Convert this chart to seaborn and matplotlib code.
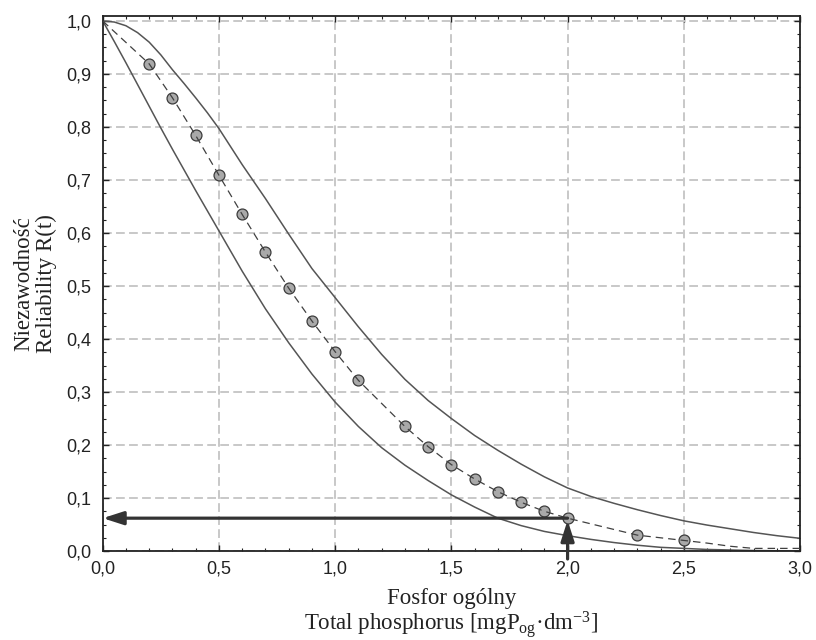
import numpy as np
import pandas as pd
import seaborn as sns
import matplotlib.pyplot as plt
from matplotlib.ticker import MultipleLocator

t_obs = [0.2, 0.3, 0.4, 0.5, 0.6, 0.7, 0.8, 0.9, 1.0, 1.1,
         1.3, 1.4, 1.5, 1.6, 1.7, 1.8, 1.9, 2.0, 2.3, 2.5]
r_obs = [0.919, 0.855, 0.784, 0.709, 0.635, 0.564, 0.496, 0.434, 0.376, 0.322,
         0.235, 0.197, 0.163, 0.136, 0.112, 0.092, 0.075, 0.062, 0.030, 0.020]

# Empirical (dashed) curve incl. start and tail
emp_t = [0.0, 0.2, 0.3, 0.4, 0.5, 0.6, 0.7, 0.8, 0.9, 1.0, 1.1,
         1.3, 1.4, 1.5, 1.6, 1.7, 1.8, 1.9, 2.0, 2.3, 2.5, 2.6, 2.7, 2.8, 3.0]
emp_r = [1.0, 0.919, 0.855, 0.784, 0.709, 0.635, 0.564, 0.496, 0.434, 0.376, 0.322,
         0.235, 0.197, 0.163, 0.136, 0.112, 0.092, 0.075, 0.062, 0.030, 0.020,
         0.015, 0.009, 0.005, 0.005]

# Confidence bounds (solid lines)
grid_t = [0.0, 0.05, 0.1, 0.15, 0.2, 0.25, 0.3, 0.35, 0.4, 0.45, 0.5, 0.55, 0.6, 0.7, 0.8, 0.9, 1.0,
          1.1, 1.2, 1.3, 1.4, 1.5, 1.6, 1.7, 1.8, 1.9, 2.0,
          2.1, 2.2, 2.3, 2.4, 2.5, 2.6, 2.7, 2.8, 2.9, 3.0]
r_upper = [1.0, 0.998, 0.991, 0.978, 0.960, 0.936, 0.908, 0.882, 0.855, 0.827, 0.797,
           0.763, 0.729, 0.665, 0.598, 0.533, 0.478,
           0.423, 0.371, 0.324, 0.284, 0.250, 0.218, 0.190, 0.164, 0.140, 0.119,
           0.103, 0.090, 0.078, 0.067, 0.057, 0.049, 0.042, 0.035, 0.029, 0.024]
r_lower = [1.0, 0.961, 0.921, 0.880, 0.839, 0.798, 0.758, 0.719, 0.680, 0.642, 0.604,
           0.566, 0.528, 0.457, 0.393, 0.334, 0.281,
           0.235, 0.195, 0.162, 0.133, 0.106, 0.083, 0.062, 0.048, 0.037, 0.029,
           0.022, 0.016, 0.011, 0.007, 0.005, 0.003, 0.002, 0.001, 0.0005, 0.0]

# Read-off point marked with arrows
t_read = 2.0
r_read = 0.062

x_ticks = [0.0, 0.5, 1.0, 1.5, 2.0, 2.5, 3.0]
x_labels = ['0,0', '0,5', '1,0', '1,5', '2,0', '2,5', '3,0']
y_ticks = [0.0, 0.1, 0.2, 0.3, 0.4, 0.5, 0.6, 0.7, 0.8, 0.9, 1.0]
y_labels = ['0,0', '0,1', '0,2', '0,3', '0,4', '0,5', '0,6', '0,7', '0,8', '0,9', '1,0']

sns.set_style('ticks')
plt.rcParams['font.family'] = ['Liberation Sans', 'DejaVu Sans']
plt.rcParams['mathtext.fontset'] = 'custom'
plt.rcParams['mathtext.rm'] = 'Liberation Serif'
plt.rcParams['mathtext.it'] = 'Liberation Serif:italic'

fig, ax = plt.subplots(figsize=(8.16, 6.4), dpi=100)
fig.subplots_adjust(left=0.1259, right=0.9804, top=0.9755, bottom=0.139)

ax.grid(True, which='major', color='#c8c8c8', lw=1.4, linestyle=(0, (4.5, 2.2)))
ax.set_axisbelow(True)

sns.lineplot(x=grid_t, y=r_upper, ax=ax, color='#555555', lw=1.1, estimator=None, zorder=2)
sns.lineplot(x=grid_t, y=r_lower, ax=ax, color='#555555', lw=1.1, estimator=None, zorder=2)
sns.scatterplot(x=t_obs, y=r_obs, ax=ax, s=62, color='#a9a9a9', edgecolor='#3c3c3c',
                linewidth=0.9, zorder=3)
sns.lineplot(x=emp_t, y=emp_r, ax=ax, color='#404040', lw=0.9, estimator=None,
             linestyle=(0, (6, 4)), zorder=4)

# arrows: up from the x axis to the point, then left to the y axis
arrow_kw = dict(arrowstyle='-|>,head_length=0.62,head_width=0.2', lw=2.3,
                color='#333333', shrinkA=0, shrinkB=0, mutation_scale=20)
ax.annotate('', xy=(0.0, r_read), xytext=(t_read, r_read),
            arrowprops=arrow_kw, annotation_clip=False, zorder=5)
ax.annotate('', xy=(t_read, r_read - 0.004), xytext=(t_read, -0.015),
            arrowprops=arrow_kw, annotation_clip=False, zorder=5)

ax.set_xlim(0, 3.0)
ax.set_ylim(0, 1.01)
ax.set_xticks(x_ticks)
ax.set_xticklabels(x_labels)
ax.set_yticks(y_ticks)
ax.set_yticklabels(y_labels)
ax.xaxis.set_minor_locator(MultipleLocator(0.1))
ax.yaxis.set_minor_locator(MultipleLocator(0.025))
ax.tick_params(which='both', direction='in', top=True, right=True, color='#222222')
ax.tick_params(which='major', length=4, width=1.0, labelsize=13, labelcolor='#222222')
ax.tick_params(which='minor', length=2.5, width=0.8)
ax.tick_params(axis='x', which='major', pad=7)
ax.tick_params(axis='y', which='major', pad=8)
for s in ax.spines.values():
    s.set_linewidth(1.3)
    s.set_color('#222222')

ax.set_xlabel('')
ax.set_ylabel('Niezawodność\nReliability R(t)', family='Liberation Serif', fontsize=16.5,
              linespacing=1.05, color='#222222')
ax.yaxis.set_label_coords(-0.066, 0.5)
ax.text(0.5, -0.099, 'Fosfor ogólny', transform=ax.transAxes, ha='center',
        va='baseline', family='Liberation Serif', fontsize=16.5, color='#222222')
ax.text(0.5, -0.1476, r'Total phosphorus [mgP$_{\mathrm{og}}$·dm$^{-3}$]',
        transform=ax.transAxes, ha='center', va='baseline',
        family='Liberation Serif', fontsize=16.5, color='#222222')

plt.savefig('out.png', dpi=100)
